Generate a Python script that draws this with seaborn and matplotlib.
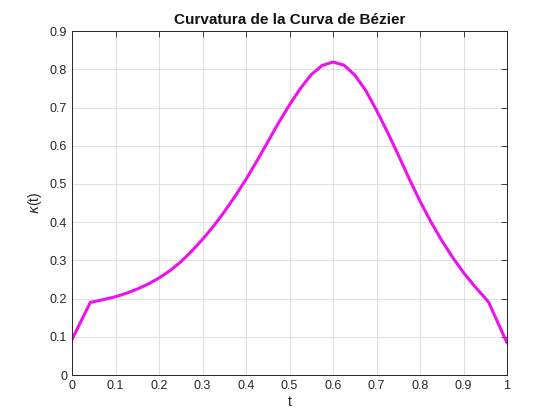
import numpy as np
import pandas as pd
import matplotlib
matplotlib.use('Agg')
import matplotlib.pyplot as plt
import seaborn as sns

# curvature samples
t = [0.000, 0.042, 0.050, 0.075, 0.100, 0.125, 0.150, 0.175, 0.200, 0.225,
     0.250, 0.275, 0.300, 0.325, 0.350, 0.375, 0.400, 0.425, 0.450, 0.475,
     0.500, 0.525, 0.550, 0.575, 0.600, 0.625, 0.650, 0.675, 0.700, 0.725,
     0.750, 0.775, 0.800, 0.825, 0.850, 0.875, 0.900, 0.925, 0.950, 0.958,
     1.000]
kappa = [0.093, 0.190, 0.192, 0.198, 0.205, 0.214, 0.225, 0.238, 0.254, 0.273,
         0.296, 0.324, 0.355, 0.389, 0.427, 0.468, 0.512, 0.560, 0.610, 0.660,
         0.707, 0.750, 0.786, 0.810, 0.819, 0.811, 0.785, 0.745, 0.693, 0.636,
         0.576, 0.514, 0.455, 0.401, 0.352, 0.308, 0.268, 0.233, 0.201, 0.190,
         0.084]
xticks = [0, 0.1, 0.2, 0.3, 0.4, 0.5, 0.6, 0.7, 0.8, 0.9, 1]
yticks = [0, 0.1, 0.2, 0.3, 0.4, 0.5, 0.6, 0.7, 0.8, 0.9]

df = pd.DataFrame({'t': t, 'kappa': kappa})

sns.set_style('white')
plt.rcParams['font.family'] = ['Liberation Sans', 'DejaVu Sans']
plt.rcParams['font.size'] = 9

fig = plt.figure(figsize=(5.6, 4.2), dpi=100)
ax = fig.add_axes([0.1286, 0.107, 0.7768, 0.819])
sns.lineplot(data=df, x='t', y='kappa', ax=ax, color='#ee11ee', linewidth=2.2)

ax.set_xlim(0, 1)
ax.set_ylim(0, 0.9)
ax.set_xticks(xticks)
ax.set_xticklabels([f'{v:g}' for v in xticks])
ax.set_yticks(yticks)
ax.set_yticklabels([f'{v:g}' for v in yticks])
ax.grid(True, color='#d9d9d9', linewidth=0.6)
ax.tick_params(direction='in', length=4, width=0.6, colors='#262626',
               top=True, right=True, labelsize=9)
for s in ax.spines.values():
    s.set_color('#262626')
    s.set_linewidth(0.7)

ax.set_xlabel('t', fontsize=10, color='#262626', labelpad=2)
ax.set_ylabel(r'$\kappa$(t)', fontsize=10, color='#262626', labelpad=4)
ax.set_title('Curvatura de la Curva de Bézier', fontsize=11, fontweight='bold',
             color='#111111', pad=5)

fig.savefig('out.png', dpi=100, facecolor='white')
